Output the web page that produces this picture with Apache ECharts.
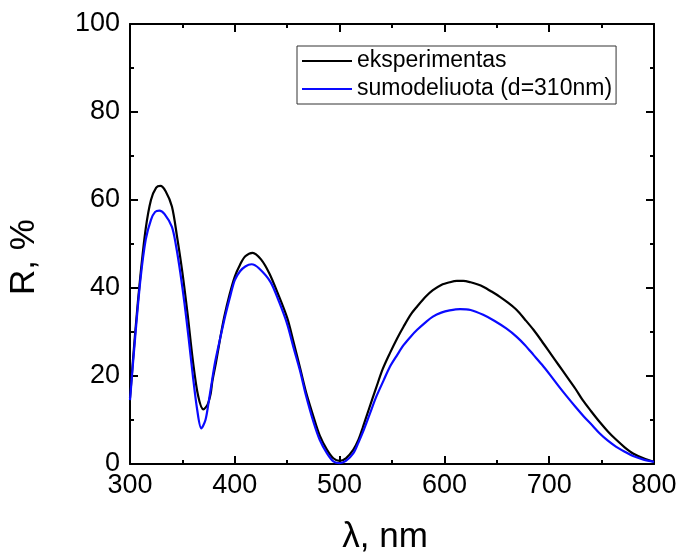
<!DOCTYPE html>
<html>
<head>
<meta charset="utf-8">
<script src="https://cdn.jsdelivr.net/npm/echarts@6/dist/echarts.min.js"></script>
<style>
  html, body { margin: 0; padding: 0; background: #fff; }
  #chart { width: 679px; height: 555px; }
</style>
</head>
<body>
<div id="chart"></div>
<script>
// eksperimentas
const wlExp = [300, 305, 310, 315, 320, 325, 329, 334, 340, 345, 350, 355, 360, 365, 370,
  374, 377, 378.5, 382, 386, 390, 395, 400, 405, 410, 417, 425, 433, 441, 450, 456, 462,
  468, 475, 481, 488, 494, 500, 506, 513, 518, 522, 528, 535, 541, 548, 555, 561, 568, 574,
  582, 589, 597, 605, 612, 618, 625, 632, 637, 645, 653, 661, 669, 677, 685, 693, 701, 709,
  717, 725, 732, 740, 748, 756, 764, 772, 780, 790, 800]
const rExp = [15, 30, 43, 53.5, 60, 62.8, 63.2, 62, 58.5, 51.5, 43.5, 34, 23.5, 15.5, 12.4,
  13.5, 16, 18.7, 23, 28.5, 33.5, 38.5, 42.6, 45.3, 47.2, 48.0, 46.5, 43.3, 38.8, 33.2, 27.8, 22.1,
  16.3, 10.8, 6.5, 3.2, 1.3, 0.7, 1.3, 3.2, 5.5, 8.2, 12.5, 17.4, 21.5, 25.2, 28.6, 31.2, 34, 35.8,
  38, 39.5, 40.7, 41.3, 41.6, 41.6, 41.3, 40.8, 40.3, 39.2, 38.0, 36.6, 35, 32.8, 30.5, 27.9, 25.2, 22.5,
  19.8, 17.1, 14.5, 12, 9.6, 7.4, 5.5, 3.8, 2.4, 1.3, 0.5]

// sumodeliuota (d=310nm)
const wlSim = [300, 305, 310, 315, 320, 324, 328, 333, 340, 344, 348, 352, 356, 360, 364, 368,
  372, 375, 378, 381, 386, 391, 396, 400, 405, 410, 416, 423, 434, 442, 450, 456, 462, 468, 475,
  481, 488, 494, 500, 506, 513, 518, 523, 529, 535, 542, 548, 555, 561, 568, 574, 582, 589, 597,
  605, 615, 625, 637, 648, 659, 669, 677, 685, 693, 701, 709, 717, 725, 733, 741, 748, 756, 764,
  772, 780, 790, 800]
const rSim = [14.5, 29, 42, 51, 55.5, 57.3, 57.6, 56.8, 53.9, 49.5, 43.5, 36.5, 28.5, 20, 12.5, 8.1,
  10, 14, 18.5, 22.9, 28.5, 33.8, 38.5, 41.8, 43.8, 44.9, 45.4, 44.5, 41.4, 37, 31.8, 26.5, 21.4, 15.5, 9.6,
  5.5, 2.4, 0.6, 0.2, 0.7, 2.4, 4.9, 7.7, 11.5, 15.3, 19, 22.1, 24.8, 27, 29, 30.5, 32.2, 33.5, 34.4,
  34.9, 35.2, 35, 33.9, 32.5, 30.8, 28.9, 27, 24.8, 22.6, 20.2, 17.7, 15.3, 13, 10.8, 8.8, 7, 5.3, 3.9,
  2.8, 1.8, 1, 0.5]

const xTicks = { min: 300, max: 800, interval: 100 }
const yTicks = { min: 0, max: 100, interval: 20 }

const font = 'Liberation Sans, Arial, sans-serif'
const pairs = (xs, ys) => xs.map((x, i) => [x, ys[i]])

// 坐标轴公共样式
const axisBase = (extra) => Object.assign({
  type: 'value',
  axisLine: { show: true, onZero: false, lineStyle: { color: '#000', width: 2 } },
  axisTick: { show: true, inside: true, length: 8, lineStyle: { color: '#000', width: 2 } },
  minorTick: { show: true, splitNumber: 2, length: 4, lineStyle: { color: '#000', width: 2 } },
  splitLine: { show: false },
  minorSplitLine: { show: false },
}, extra)

const chart = echarts.init(document.getElementById('chart'))
chart.setOption({
  animation: false,
  backgroundColor: '#fff',
  grid: { left: 130, right: 25, top: 24, bottom: 91, outerBoundsMode: 'none' },
  legend: {
    orient: 'vertical',
    left: 297,
    top: 46,
    padding: [3, 4, 3, 5],
    itemGap: 4,
    itemWidth: 50,
    itemHeight: 2,
    icon: 'rect',
    borderColor: '#333',
    borderWidth: 1,
    textStyle: { fontFamily: font, fontSize: 23, color: '#000', lineHeight: 24 },
    data: ['eksperimentas', 'sumodeliuota (d=310nm)'],
  },
  xAxis: [
    axisBase({
      ...xTicks,
      position: 'bottom',
      name: 'λ, nm',
      nameLocation: 'middle',
      nameGap: 56,
      nameTextStyle: { fontFamily: font, fontSize: 35, color: '#000', padding: [0, 14, 0, 0] },
      axisLabel: { fontFamily: font, fontSize: 27, color: '#000', margin: 8 },
    }),
    axisBase({ ...xTicks, position: 'top', axisLabel: { show: false } }),
  ],
  yAxis: [
    axisBase({
      ...yTicks,
      position: 'left',
      name: 'R, %',
      nameLocation: 'middle',
      nameGap: 88,
      nameTextStyle: { fontFamily: font, fontSize: 35, color: '#000', padding: [0, 26, 0, 0] },
      axisLabel: { fontFamily: font, fontSize: 27, color: '#000', margin: 10 },
    }),
    axisBase({ ...yTicks, position: 'right', axisLabel: { show: false } }),
  ],
  series: [
    {
      name: 'eksperimentas',
      type: 'line',
      symbol: 'none',
      smooth: 0.3,
      color: '#000',
      lineStyle: { color: '#000', width: 2.2 },
      data: pairs(wlExp, rExp),
    },
    {
      name: 'sumodeliuota (d=310nm)',
      type: 'line',
      symbol: 'none',
      smooth: 0.3,
      color: '#0a0aff',
      lineStyle: { color: '#0a0aff', width: 2.2 },
      data: pairs(wlSim, rSim),
    },
  ],
})
</script>
</body>
</html>
